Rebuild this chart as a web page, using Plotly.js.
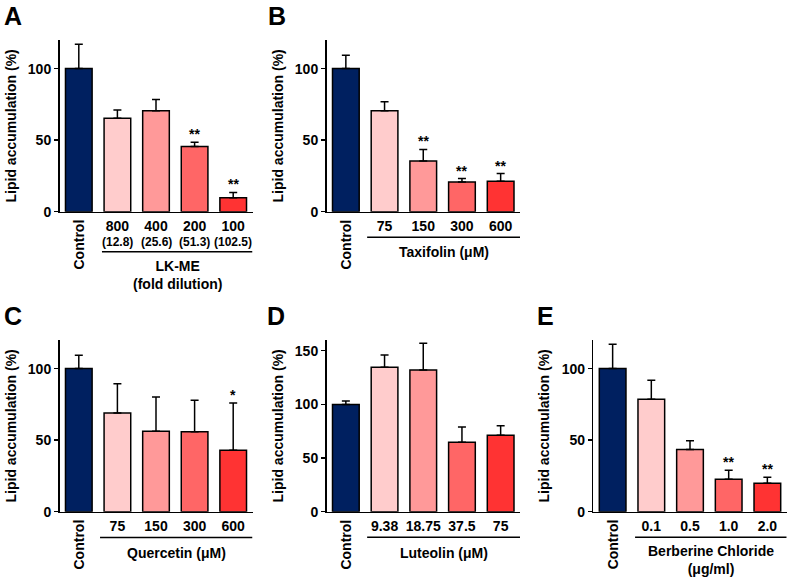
<!DOCTYPE html>
<html>
<head>
<meta charset="utf-8">
<script src="https://cdn.plot.ly/plotly-3.0.1.min.js"></script>
<style>
  html, body { margin: 0; padding: 0; background: #fff; }
  #chart { width: 789px; height: 577px; }
</style>
</head>
<body>
<div id="chart"></div>
<script>
  // ---- data (lipid accumulation, % of control) ----
  var labelsA = ["Control", "800", "400", "200", "100"];
  var subA = ["", "(12.8)", "(25.6)", "(51.3)", "(102.5)"];
  var valsA = [100, 65.3, 70.6, 45.6, 9.7];
  var errA = [17, 5.8, 7.9, 3.0, 3.8];
  var sigA = ["", "", "", "**", "**"];

  var labelsB = ["Control", "75", "150", "300", "600"];
  var valsB = [100, 70.6, 35.4, 20.8, 21.3];
  var errB = [9.3, 6.3, 8.1, 2.4, 5.4];
  var sigB = ["", "", "**", "**", "**"];

  var labelsC = ["Control", "75", "150", "300", "600"];
  var valsC = [100, 69.0, 56.3, 55.8, 43.0];
  var errC = [9.3, 20.5, 23.9, 22.1, 33.0];
  var sigC = ["", "", "", "", "*"];

  var labelsD = ["Control", "9.38", "18.75", "37.5", "75"];
  var valsD = [100, 134.5, 132.0, 64.7, 71.2];
  var errD = [3.1, 11.5, 24.9, 14.2, 8.9];
  var sigD = ["", "", "", "", ""];

  var labelsE = ["Control", "0.1", "0.5", "1.0", "2.0"];
  var valsE = [100, 78.6, 43.5, 22.6, 19.8];
  var errE = [17, 13.2, 6.0, 6.3, 4.2];
  var sigE = ["", "", "", "**", "**"];

  var groupTitles = ["LK-ME<br>(fold dilution)", "Taxifolin (μM)", "Quercetin (μM)", "Luteolin (μM)", "Berberine Chloride<br>(μg/ml)"];
  var panelLetters = ["A", "B", "C", "D", "E"];

  // ---- styling ----
  var FONT = "Liberation Sans, Arial, Helvetica, sans-serif";
  var FS = 14;
  var COLORS = ["#002060", "#FFCCCC", "#FF9999", "#FF6666", "#FF3333"];
  var W = 789, H = 577;
  function px(x) { return x / W; }
  function py(y) { return 1 - y / H; }   // 像素(自上而下) -> paper

  // 每个面板：x 轴像素范围、y 轴像素范围、y 量程、分组线/标题位置
  var panels = [
    { labels: labelsA, vals: valsA, err: errA, sig: sigA, sub: subA,
      x0: 59.5, x1: 252.5, yb: 211.7, yt: 40, ymax: 120, lineY: 251.7, titleY: 256, lineX0: 0.6,
      letter: [2, 0] },
    { labels: labelsB, vals: valsB, err: errB, sig: sigB,
      x0: 326.5, x1: 520, yb: 211.7, yt: 40, ymax: 120, lineY: 237.3, titleY: 242, lineX0: 0.55,
      letter: [266, 0] },
    { labels: labelsC, vals: valsC, err: errC, sig: sigC,
      x0: 59.5, x1: 252.5, yb: 511.7, yt: 340, ymax: 120, lineY: 537.5, titleY: 542.5, lineX0: 0.55,
      letter: [2, 300] },
    { labels: labelsD, vals: valsD, err: errD, sig: sigD,
      x0: 326.5, x1: 520, yb: 511.7, yt: 340, ymax: 160, lineY: 537.3, titleY: 542.5, lineX0: 0.55,
      letter: [265, 300] },
    { labels: labelsE, vals: valsE, err: errE, sig: sigE,
      x0: 593.3, x1: 786.7, yb: 511.7, yt: 340, ymax: 120, lineY: 537.3, titleY: 541, lineX0: 0.58,
      letter: [535, 300] }
  ];

  var traces = [], shapes = [], annotations = [];
  var layout = {
    width: W, height: H, margin: { l: 0, r: 0, t: 0, b: 0 },
    paper_bgcolor: "#fff", plot_bgcolor: "rgba(0,0,0,0)",
    showlegend: false, bargap: 0.31,
    font: { family: FONT, color: "#000", size: FS, weight: "bold" }
  };

  panels.forEach(function (p, i) {
    var n = i === 0 ? "" : String(i + 1);
    var xa = "x" + n, ya = "y" + n;
    traces.push({
      type: "bar", x: p.labels, y: p.vals, xaxis: xa, yaxis: ya,
      marker: { color: COLORS, line: { color: "#000", width: 1.5 } },
      error_y: { type: "data", symmetric: false, array: p.err,
        arrayminus: p.err.map(function () { return 0; }),
        color: "#000", thickness: 1.5, width: 4 },
      hoverinfo: "x+y"
    });

    layout["xaxis" + n] = {
      domain: [px(p.x0), px(p.x1)], anchor: ya, type: "category",
      range: [-0.5, 4.5], fixedrange: true,
      showline: true, linecolor: "#000", linewidth: 1.5, ticks: "",
      tickvals: p.labels.slice(1), ticktext: p.labels.slice(1),
      tickfont: { family: FONT, size: FS, weight: "bold", color: "#000" },
      ticklabelstandoff: 1, showgrid: false, zeroline: false
    };
    layout["yaxis" + n] = {
      domain: [py(p.yb), py(p.yt)], anchor: xa,
      range: [0, p.ymax], fixedrange: true, dtick: 50,
      showline: true, linecolor: "#000", linewidth: 1.5,
      ticks: "outside", ticklen: 4, tickwidth: 1.5, tickcolor: "#000",
      tickfont: { family: FONT, size: FS, weight: "bold", color: "#000" },
      showgrid: false, zeroline: false,
      title: { text: "Lipid accumulation (%)", standoff: 8,
        font: { family: FONT, size: FS, weight: "bold", color: "#000" } }
    };

    // 稀释倍数下的括号浓度（只有 A 有）
    if (p.sub) {
      p.sub.forEach(function (s, k) {
        if (!s) return;
        annotations.push({ xref: xa, yref: "paper", x: k, y: py(242),
          text: s, showarrow: false, xanchor: "center", yanchor: "middle",
          font: { family: FONT, size: 12, weight: "bold" } });
      });
    }

    // 横线：处理组下方的分组线
    shapes.push({ type: "line", xref: xa, yref: "paper",
      x0: p.lineX0, x1: 4.5, y0: py(p.lineY), y1: py(p.lineY),
      line: { color: "#000", width: 1.5 } });

    // Control 竖排标签
    annotations.push({ xref: xa, yref: "paper", x: 0, y: py(p.yb + 6),
      text: "Control", textangle: -90, showarrow: false,
      xanchor: "center", yanchor: "top",
      font: { family: FONT, size: FS, weight: "bold" } });

    // 分组标题（居中在分组线下方）
    annotations.push({ xref: xa, yref: "paper", x: (p.lineX0 + 4.5) / 2, y: py(p.titleY),
      text: groupTitles[i], showarrow: false, xanchor: "center", yanchor: "top",
      font: { family: FONT, size: FS, weight: "bold" } });

    // 显著性星号（类别轴上用序号定位）
    p.sig.forEach(function (s, k) {
      if (!s) return;
      annotations.push({ xref: xa, yref: ya, x: k, y: p.vals[k] + p.err[k],
        text: s, showarrow: false, xanchor: "center", yanchor: "bottom", yshift: -2,
        font: { family: FONT, size: FS, weight: "bold" } });
    });

    // 面板字母
    annotations.push({ xref: "paper", yref: "paper", x: px(p.letter[0]), y: py(p.letter[1]),
      text: panelLetters[i], showarrow: false, xanchor: "left", yanchor: "top",
      font: { family: FONT, size: 25, weight: "bold" } });
  });

  layout.shapes = shapes;
  layout.annotations = annotations;

  Plotly.newPlot("chart", traces, layout, { displayModeBar: false, staticPlot: true });
</script>
</body>
</html>
